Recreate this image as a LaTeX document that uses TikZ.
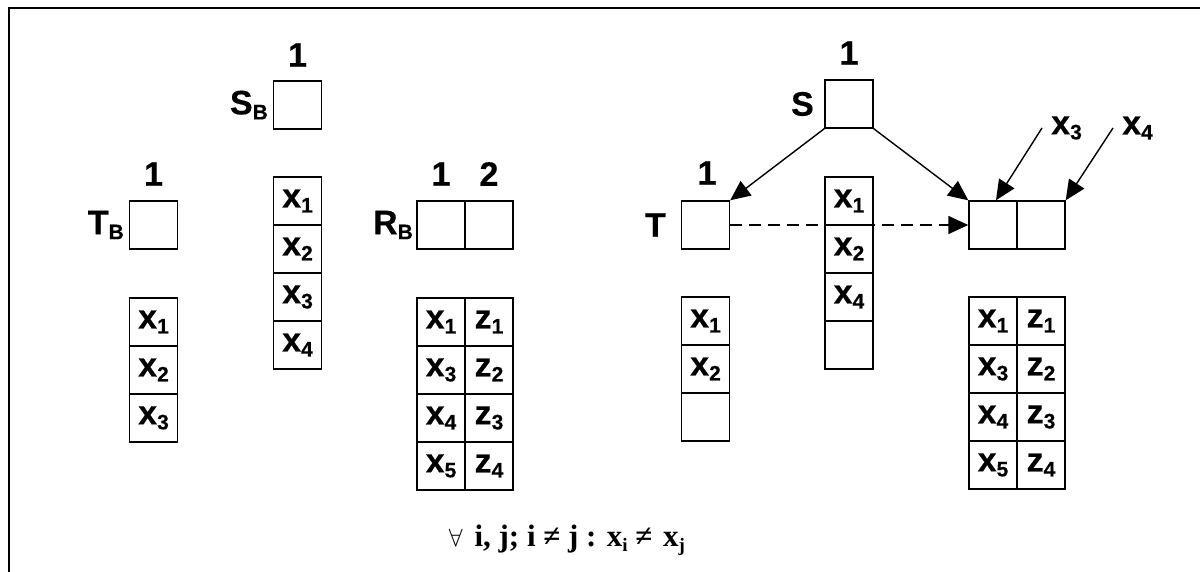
\documentclass[tikz,border=0pt]{standalone}
\usepackage{fontspec}
\setmainfont{Liberation Sans}[BoldFeatures={FakeBold=0.4}]
\newfontfamily\serifbf{Liberation Serif}
\usetikzlibrary{arrows.meta,calc}

% lowered small index used in the cell and pointer labels
\newcommand{\lsub}[1]{\raisebox{-5pt}{\fontsize{21}{21}\selectfont #1}}
% lowered index for the serif constraint line
\newcommand{\fsub}[1]{\raisebox{-5pt}{\fontsize{19}{19}\selectfont #1}}

\begin{document}
\begin{tikzpicture}[x=1pt,y=-1pt,
  cell/.style={draw,line width=1.4pt,minimum width=48pt,minimum height=48pt,
    inner sep=0pt,font=\bfseries\fontsize{34}{36}\selectfont},
  lbl/.style={inner sep=0pt,font=\bfseries\fontsize{34}{36}\selectfont},
  ptr/.style={line width=1.4pt,-{Triangle[length=20pt,width=18pt]}},
  dptr/.style={ptr,dash pattern=on 12pt off 7pt},
]
\useasboundingbox (0,0) rectangle (1200,572);
\draw[line width=2pt] (9,572) -- (9,8) -- (1200,8);

% ---------- left half: buckets before the change ----------
% T_B
\node[cell] (tb) at (153.5,225) {};
\node[lbl,anchor=east] (tbname) at (124,225) {T\lsub{B}};
\node[lbl] (tbidx) at (153.5,174) {1};
\node[cell] (tb1) at (153.5,322) {x\lsub{1}};
\node[cell] (tb2) at (153.5,370) {x\lsub{2}};
\node[cell] (tb3) at (153.5,418) {x\lsub{3}};

% S_B
\node[cell] (sb) at (297.5,105) {};
\node[lbl,anchor=east] (sbname) at (268,105) {S\lsub{B}};
\node[lbl] (sbidx) at (297.5,55) {1};
\node[cell] (sb1) at (297.5,201) {x\lsub{1}};
\node[cell] (sb2) at (297.5,249) {x\lsub{2}};
\node[cell] (sb3) at (297.5,297) {x\lsub{3}};
\node[cell] (sb4) at (297.5,345) {x\lsub{4}};

% R_B
\node[cell] (rb1) at (441,225) {};
\node[cell] (rb2) at (489,225) {};
\node[lbl,anchor=east] (rbname) at (413,225) {R\lsub{B}};
\node[lbl] (rbidx1) at (441,174) {1};
\node[lbl] (rbidx2) at (489,174) {2};
\node[cell] (ra1) at (441,322) {x\lsub{1}};
\node[cell] (rz1) at (489,322) {z\lsub{1}};
\node[cell] (ra2) at (441,370) {x\lsub{3}};
\node[cell] (rz2) at (489,370) {z\lsub{2}};
\node[cell] (ra3) at (441,418) {x\lsub{4}};
\node[cell] (rz3) at (489,418) {z\lsub{3}};
\node[cell] (ra4) at (441,466) {x\lsub{5}};
\node[cell] (rz4) at (489,466) {z\lsub{4}};

% ---------- right half: pointers ----------
% S
\node[cell] (s) at (849,104) {};
\node[lbl,anchor=east] (sname) at (814,104) {S};
\node[lbl] (sidx) at (849,53) {1};
\node[cell] (m1) at (849,201) {x\lsub{1}};
\node[cell] (m2) at (849,249) {x\lsub{2}};
\node[cell] (m3) at (849,297) {x\lsub{4}};
\node[cell] (m4) at (849,345) {};

% T
\node[cell] (t) at (705.5,225) {};
\node[lbl,anchor=east] (tname) at (666,225) {T};
\node[lbl] (tidx) at (707,173) {1};
\node[cell] (t1) at (705.5,321) {x\lsub{1}};
\node[cell] (t2) at (705.5,369) {x\lsub{2}};
\node[cell] (t3) at (705.5,417) {};

% R
\node[cell] (d1) at (993,225) {};
\node[cell] (d2) at (1041,225) {};
\node[cell] (q1) at (993,321) {x\lsub{1}};
\node[cell] (w1) at (1041,321) {z\lsub{1}};
\node[cell] (q2) at (993,369) {x\lsub{3}};
\node[cell] (w2) at (1041,369) {z\lsub{2}};
\node[cell] (q3) at (993,417) {x\lsub{4}};
\node[cell] (w3) at (1041,417) {z\lsub{3}};
\node[cell] (q4) at (993,465) {x\lsub{5}};
\node[cell] (w4) at (1041,465) {z\lsub{4}};

\node[lbl,anchor=west] (lx3) at (1051,128) {x\lsub{3}};
\node[lbl,anchor=west] (lx4) at (1122,128) {x\lsub{4}};

% connectors
\draw[ptr] (s.south west) -- (t.north east);
\draw[ptr] (s.south east) -- (d1.north west);
\draw[dptr] (t.east) -- (d1.west);
\draw[ptr] ($(lx3.west)+(-9,0)$) -- ($(d1.north)+(3,0)$);
\draw[ptr] ($(lx4.west)+(-9,0)$) -- (d2.north east);

% constraint
\node[font=\serifbf\bfseries\fontsize{31}{33}\selectfont] (rule) at (567,540)
  {$\forall$\hspace{4pt} i, j; i ≠ j : x\fsub{i} ≠\hspace{3pt} x\fsub{j}};
\end{tikzpicture}
\end{document}
